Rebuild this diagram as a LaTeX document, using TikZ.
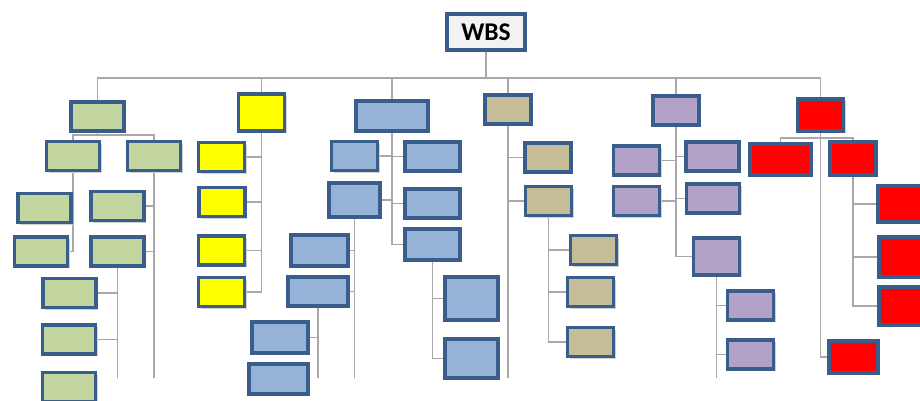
\documentclass[tikz,border=0pt]{standalone}
\usepackage{fontspec}
\setmainfont{Carlito}
\usepackage{tikz}
\usetikzlibrary{backgrounds, shadows}

\definecolor{edgeblue}{RGB}{58,94,140}
\definecolor{wbsgray}{RGB}{242,242,242}
\definecolor{wbsgreen}{RGB}{196,214,160}
\definecolor{wbsyellow}{RGB}{255,255,0}
\definecolor{wbsblue}{RGB}{149,179,215}
\definecolor{wbstan}{RGB}{196,189,151}
\definecolor{wbspurple}{RGB}{178,162,199}
\definecolor{wbsred}{RGB}{255,0,0}
\definecolor{linkgray}{RGB}{168,168,168}

\begin{document}
\begin{tikzpicture}[x=0.02cm, y=-0.02cm,
    task/.style={rectangle, draw=edgeblue, line width=1.9pt, inner sep=0pt, minimum width=1.06cm, minimum height=0.58cm,
        general shadow={fill=gray!35, shadow xshift=1.4pt, shadow yshift=-1.4pt}},
    narrow/.style={task, minimum width=0.92cm},
    link/.style={draw=linkgray, line width=1.1pt}
]
    \useasboundingbox (0,0) rectangle (920,401);
    \clip (0,0) rectangle (920,401);

    % Root
    \node[task, fill=wbsgray, minimum width=1.56cm, minimum height=0.72cm, font=\fontsize{14.5}{14.5}\selectfont\bfseries] (wbs) at (486,32) {WBS};

    % Green branch
    \node[task, fill=wbsgreen] (g0) at (97.5,116.5) {};
    \node[task, fill=wbsgreen] (g1) at (73,156) {};
    \node[task, fill=wbsgreen] (g2) at (154,156) {};
    \node[task, fill=wbsgreen] (g3) at (44.5,208) {};
    \node[task, fill=wbsgreen] (g4) at (41,251.5) {};
    \node[task, fill=wbsgreen] (g5) at (117.5,206) {};
    \node[task, fill=wbsgreen] (g6) at (117.5,251.5) {};
    \node[task, fill=wbsgreen] (g7) at (69.5,293) {};
    \node[task, fill=wbsgreen] (g8) at (69,339.5) {};
    \node[task, fill=wbsgreen] (g9) at (69,387) {};

    % Yellow branch
    \node[narrow, fill=wbsyellow, minimum height=0.74cm] (y0) at (261.5,112.5) {};
    \node[narrow, fill=wbsyellow] (y1) at (221.5,157) {};
    \node[narrow, fill=wbsyellow] (y2) at (222,202) {};
    \node[narrow, fill=wbsyellow] (y3) at (221.5,250.5) {};
    \node[narrow, fill=wbsyellow] (y4) at (221.5,292) {};

    % Blue branch
    \node[task, fill=wbsblue, minimum width=1.44cm, minimum height=0.6cm] (b0) at (392,116) {};
    \node[narrow, fill=wbsblue] (b1) at (354.5,156) {};
    \node[task, fill=wbsblue, minimum width=1.02cm, minimum height=0.68cm] (b2) at (354.5,200) {};
    \node[task, fill=wbsblue, minimum width=1.1cm] (b3) at (432.5,156.5) {};
    \node[task, fill=wbsblue, minimum width=1.1cm] (b4) at (432.5,203.5) {};
    \node[task, fill=wbsblue, minimum width=1.1cm, minimum height=0.62cm] (b5) at (432.5,244.5) {};
    \node[task, fill=wbsblue, minimum width=1.14cm, minimum height=0.62cm] (b6) at (319.5,250.5) {};
    \node[task, fill=wbsblue, minimum width=1.2cm] (b7) at (318,291.5) {};
    \node[task, fill=wbsblue, minimum width=1.12cm, minimum height=0.62cm] (b8) at (280,337.5) {};
    \node[task, fill=wbsblue, minimum width=1.18cm, minimum height=0.6cm] (b9) at (278.5,379) {};
    \node[task, fill=wbsblue, minimum height=0.86cm] (b10) at (471.5,298.5) {};
    \node[task, fill=wbsblue, minimum height=0.78cm] (b11) at (471.5,358.5) {};

    % Tan branch
    \node[narrow, fill=wbstan] (t0) at (508,109.5) {};
    \node[narrow, fill=wbstan] (t1) at (548,157.5) {};
    \node[narrow, fill=wbstan] (t2) at (548.5,201) {};
    \node[narrow, fill=wbstan] (t3) at (593.5,250) {};
    \node[narrow, fill=wbstan] (t4) at (590.5,292) {};
    \node[narrow, fill=wbstan] (t5) at (590.5,342) {};

    % Purple branch
    \node[narrow, fill=wbspurple] (p0) at (676,110.5) {};
    \node[narrow, fill=wbspurple] (p1) at (636.5,160.5) {};
    \node[narrow, fill=wbspurple] (p2) at (636.5,201) {};
    \node[task, fill=wbspurple] (p3) at (712.5,156.5) {};
    \node[task, fill=wbspurple] (p4) at (713,198.5) {};
    \node[narrow, fill=wbspurple, minimum height=0.74cm] (p5) at (716.5,256.5) {};
    \node[narrow, fill=wbspurple] (p6) at (750.5,305.5) {};
    \node[narrow, fill=wbspurple] (p7) at (750.5,354.5) {};

    % Red branch
    \node[narrow, fill=wbsred, minimum height=0.64cm] (r0) at (820.5,115) {};
    \node[task, fill=wbsred, minimum width=1.22cm, minimum height=0.62cm] (r1) at (780.5,159.5) {};
    \node[narrow, fill=wbsred, minimum height=0.66cm] (r2) at (853,158.5) {};
    \node[narrow, fill=wbsred, minimum height=0.72cm] (r3) at (901,204) {};
    \node[narrow, fill=wbsred, minimum height=0.8cm] (r4) at (902,257) {};
    \node[narrow, fill=wbsred, minimum height=0.76cm] (r5) at (902,306) {};
    \node[task, fill=wbsred, minimum width=0.98cm, minimum height=0.64cm] (r6) at (853.5,357) {};

    % Open ends of the trunks
    \coordinate (g2end) at (154,378);
    \coordinate (g6end) at (117.5,378);
    \coordinate (b2end) at (354.5,378);
    \coordinate (b7end) at (318,378);
    \coordinate (t0end) at (508,378);
    \coordinate (p5end) at (716.5,378);

    \begin{scope}[on background layer]
    % Top level
    \foreach \col in {g0,y0,b0,t0,p0,r0}
        \draw[link] (wbs.south) -- ++(0,26) -| (\col.north);

    % Green
    \draw[link] (g0.south) -- ++(0,2) -| (g1.north);
    \draw[link] (g0.south) -- ++(0,2) -| (g2.north);
    \draw[link] (g1.south) |- (g3.east);
    \draw[link] (g1.south) |- (g4.east);
    \draw[link] (g2.south) |- (g5.east);
    \draw[link] (g2.south) |- (g6.east);
    \draw[link] (g2.south) -- (g2end);
    \draw[link] (g6.south) |- (g7.east);
    \draw[link] (g6.south) |- (g8.east);
    \draw[link] (g6.south) -- (g6end);

    % Yellow
    \foreach \i in {1,...,4}
        \draw[link] (y0.south) |- (y\i.east);

    % Blue
    \draw[link] (b0.south) |- (b1.east);
    \draw[link] (b0.south) |- (b2.east);
    \foreach \i in {3,4,5}
        \draw[link] (b0.south) |- (b\i.west);
    \draw[link] (b2.south) |- (b6.east);
    \draw[link] (b2.south) |- (b7.east);
    \draw[link] (b2.south) -- (b2end);
    \draw[link] (b7.south) |- (b8.east);
    \draw[link] (b7.south) -- (b7end);
    \draw[link] (b5.south) |- (b10.west);
    \draw[link] (b5.south) |- (b11.west);

    % Tan
    \draw[link] (t0.south) |- (t1.west);
    \draw[link] (t0.south) |- (t2.west);
    \draw[link] (t0.south) -- (t0end);
    \foreach \i in {3,4,5}
        \draw[link] (t2.south) |- (t\i.west);

    % Purple
    \draw[link] (p0.south) |- (p1.east);
    \draw[link] (p0.south) |- (p2.east);
    \foreach \i in {3,4,5}
        \draw[link] (p0.south) |- (p\i.west);
    \draw[link] (p5.south) |- (p6.west);
    \draw[link] (p5.south) |- (p7.west);
    \draw[link] (p5.south) -- (p5end);

    % Red
    \draw[link] (r0.south) -- ++(0,5) -| (r1.north);
    \draw[link] (r0.south) -- ++(0,5) -| (r2.north);
    \draw[link] (r0.south) |- (r6.west);
    \foreach \i in {3,4,5}
        \draw[link] (r2.south) |- (r\i.west);
    \end{scope}
\end{tikzpicture}
\end{document}
